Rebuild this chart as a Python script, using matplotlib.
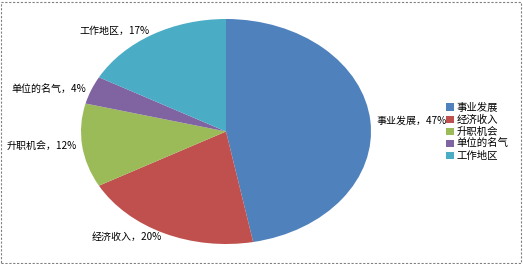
import matplotlib
matplotlib.use('Agg')
import matplotlib.pyplot as plt
from matplotlib.patches import Rectangle

labels = ['事业发展', '经济收入', '升职机会', '单位的名气', '工作地区']
shares = [47, 20, 12, 4, 17]
colors = ['#4F81BD', '#C0504D', '#9BBB59', '#8064A2', '#4BACC6']

plt.rcParams['font.family'] = ['Noto Sans CJK SC', 'DejaVu Sans']

fig = plt.figure(figsize=(5.23, 2.64), dpi=100)
fig.patches.append(Rectangle((0.002, 0.004), 0.994, 0.99, transform=fig.transFigure,
                             fill=False, edgecolor='#808080', linestyle=(0, (2, 1.5)),
                             linewidth=0.8))

# elliptical pie: axes stretched, aspect left auto
ax = fig.add_axes([81 / 523, 20 / 264, 290 / 523, 225 / 264])
pieLabels = [f'{l}，{v}%' for l, v in zip(labels, shares)]
wedges, texts = ax.pie(shares, colors=colors, startangle=90, counterclock=False,
                       labels=pieLabels, labeldistance=1.04,
                       textprops={'fontsize': 7.2, 'color': 'black'},
                       wedgeprops={'linewidth': 0})
ax.set_aspect('auto')
ax.set_xlim(-1, 1)
ax.set_ylim(-1, 1)

fig.legend(wedges, labels, loc='center left', bbox_to_anchor=(441 / 523, 1 - 132 / 264),
           frameon=False, fontsize=7.5, handlelength=0.7, handleheight=0.7,
           handletextpad=0.3, labelspacing=0.2, borderpad=0)

plt.savefig('out.png', dpi=100)
plt.close()
